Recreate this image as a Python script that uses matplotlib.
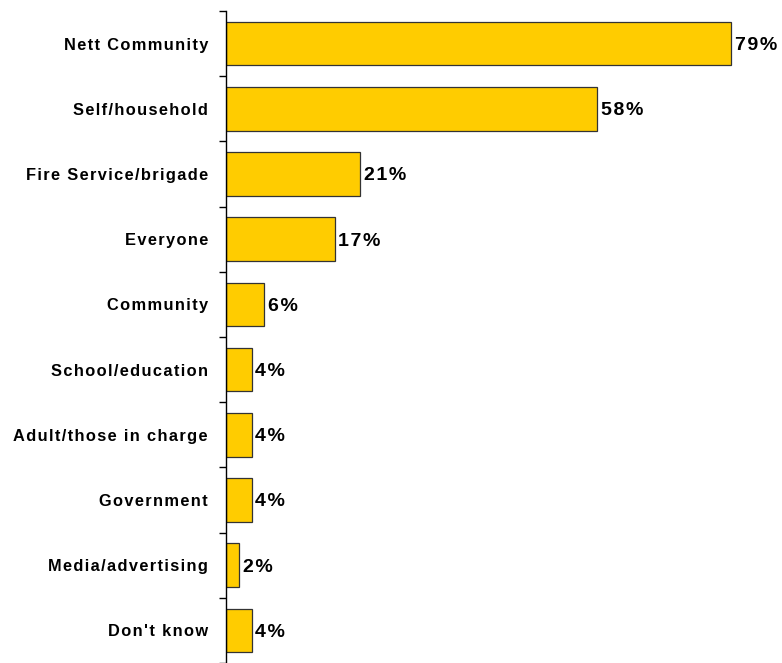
import numpy as np
import matplotlib
matplotlib.use('Agg')
import matplotlib.pyplot as plt
from matplotlib.ticker import FixedLocator

# ---------------------------------------------------------------------------
categories = ['Nett Community', 'Self/household', 'Fire Service/brigade',
              'Everyone', 'Community', 'School/education',
              'Adult/those in charge', 'Government', 'Media/advertising',
              "Don't know"]
values = [79, 58, 21, 17, 6, 4, 4, 4, 2, 4]
value_labels = ['79%', '58%', '21%', '17%', '6%', '4%', '4%', '4%', '2%', '4%']

BAR_COLOR = '#FFCC00'
FONTS = ['Liberation Sans', 'DejaVu Sans']


def spaced(s, gap='\u200a'):
    # the original chart uses wide letter spacing
    return gap.join(s)


# ---------------------------------------------------------------------------
fig = plt.figure(figsize=(7.82, 6.63), dpi=100)
ax = fig.add_axes([226 / 782, 0.0, 1 - 226 / 782, 1 - 11 / 663])

y = np.arange(len(categories))
ax.barh(y, values, height=0.67, color=BAR_COLOR, edgecolor='#333333', lw=0.9)

for yi, v, lab in zip(y, values, value_labels):
    ax.text(v + 0.6, yi + 0.03, spaced(lab), va='center', ha='left',
            fontsize=14, fontweight='bold', family=FONTS)

ax.set_ylim(len(categories) - 0.5, -0.5)
ax.set_xlim(0, 87)

ax.set_yticks(y)
ax.set_yticklabels([spaced(c) for c in categories], fontsize=11.8,
                   fontweight='bold', family=FONTS)
ax.tick_params(axis='y', which='major', length=0, pad=13)
ax.yaxis.set_minor_locator(FixedLocator(np.arange(-0.5, len(categories), 1.0)))
ax.tick_params(axis='y', which='minor', length=5, width=1, direction='out')

ax.set_xticks([])
for s in ['top', 'right', 'bottom']:
    ax.spines[s].set_visible(False)
ax.spines['left'].set_linewidth(1)

fig.savefig('out.png', dpi=100)
